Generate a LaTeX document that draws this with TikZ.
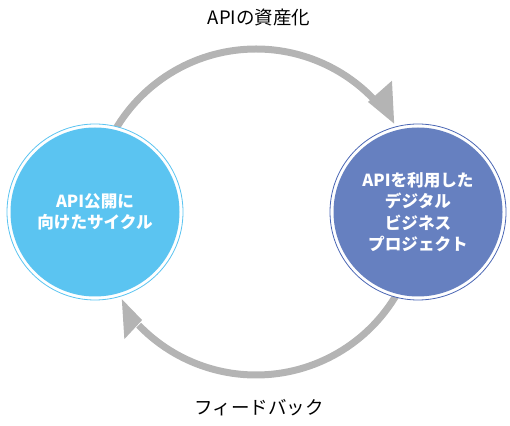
\documentclass[tikz,border=0pt]{standalone}
\usepackage{fontspec}
\usetikzlibrary{calc}
\newfontfamily\jp{Noto Sans CJK JP}
\definecolor{fillL}{HTML}{5BC4F1}
\definecolor{ringL}{HTML}{5BC4F1}
\definecolor{fillR}{HTML}{6680C0}
\definecolor{ringR}{HTML}{4A66B4}
\definecolor{arrowgray}{HTML}{B4B4B4}
\tikzset{
  bigcirc/.style={circle, minimum size=176pt, inner sep=0pt, line width=0.8pt, fill=white,
    text=white, font=\jp\bfseries\fontsize{16.6}{21.5}\selectfont, align=center},
  cyclearc/.style={draw=arrowgray, line width=7pt},
  headfill/.style={fill=arrowgray},
  lbl/.style={font=\jp\fontsize{18.5}{22}\selectfont, text=black}
}
\begin{document}
\begin{tikzpicture}[x=1pt,y=1pt]
\useasboundingbox (0,0) rectangle (510,425);
\coordinate (C) at (256,213);
% arcs
\draw[cyclearc] (C) ++(150:163) arc (150:44:163);
\fill[headfill] ($(C)+(44.5:157)$) -- ($(C)+(44:189)$) -- ($(C)+(32.6:164)$) -- cycle;
\draw[cyclearc] (C) ++(-28:163) arc (-28:-136:163);
\fill[headfill] ($(C)+(-136.5:157)$) -- ($(C)+(-136:183)$) -- ($(C)+(-147:160)$) -- cycle;
% circles
\node[bigcirc, draw=ringL, path picture={\fill[fillL] (path picture bounding box.center) circle (84.5pt);}] (L) at (95,213) {API公開に\\向けたサイクル};
\node[bigcirc, draw=ringR, path picture={\fill[fillR] (path picture bounding box.center) circle (84.5pt);}] (R) at (418,213) {APIを利用した\\デジタル\\ビジネス\\プロジェクト};
% labels
\node[lbl] (top) at (259,407) {APIの資産化};
\node[lbl] (bot) at (259,17) {フィードバック};
\end{tikzpicture}
\end{document}
